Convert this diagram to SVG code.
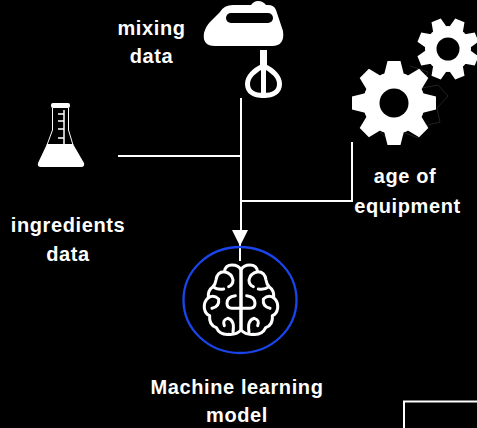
<svg xmlns="http://www.w3.org/2000/svg" width="477" height="428" viewBox="0 0 477 428">
<style>
.t{font-family:"Liberation Sans",Arial,sans-serif;font-weight:700;font-size:20px;letter-spacing:.6px;fill:#fff;text-anchor:middle}
.c{fill:none;stroke:#fff;stroke-width:2}
.w{fill:#fff}
.k{fill:#000}
.br{fill:none;stroke:#fff;stroke-width:9;stroke-linecap:round;stroke-linejoin:round}
</style>
<defs>
<path id="bt" d="M-10 -28L-6.500 -42L6.500 -42L10 -28Z"/>
<path id="st" d="M-7.500 -20L-5 -31L5 -31L7.500 -20Z"/>
<g id="hb">
<path d="M198 250V135Q205 120 225 120Q245 120 248 140Q270 140 273 165Q275 178 282 185Q298 195 296 218Q310 230 308 250Q305 268 292 272Q295 300 272 308Q262 330 235 328Q212 330 198 315V250"/>
<path d="M248 140Q225 145 222 165Q222 180 235 185"/>
<path d="M282 185Q270 195 250 192"/>
<path d="M296 218Q280 208 265 222Q262 245 285 250"/>
<path d="M198 250H225Q240 250 240 235Q240 215 215 212"/>
<path d="M222 322Q216 285 238 280Q255 285 248 302"/>
</g>
</defs>
<rect width="477" height="428" fill="#000"/>
<g id="connectors">
<path class="c" d="M118 156H241"/>
<path class="c" d="M241 98V232"/>
<path class="c" d="M352 142V201H241"/>
<path d="M232 230H248L240 246Z" fill="#fff"/>
<path class="c" d="M240 240V261"/>
<path d="M404 428V401.500H477" fill="none" stroke="#fff" stroke-width="2"/>
</g>
<g id="mixer">
<path class="w" d="M220 12Q224 5 233 5L251 5Q254 1 258 1Q263 1 266 5L268 5Q274 5 276 10L283 31Q285 46 272 46L215 46Q202 46 204 33Q206 26 210 22Z"/>
<rect class="k" x="226" y="13" width="47" height="10" rx="5"/>
<rect class="w" x="260" y="50" width="7" height="16"/>
<path d="M263.500 66C254 70 247.500 77 247.500 84C247.500 92 254 95.500 263.500 95.500C273 95.500 279.500 92 279.500 84C279.500 77 273 70 263.500 66Z" fill="none" stroke="#fff" stroke-width="5"/>
<rect class="w" x="261" y="64" width="5" height="34"/>
</g>
<g id="gears">
<path fill="none" stroke="#222" stroke-width="1" d="M380 132Q392 146 405 133L418 138L428 125L440 122L437 108L448 96L438 85L422 88L428 72L410 66"/>
<g id="gear-large" transform="translate(394 103)" class="w">
<circle r="31"/>
<use href="#bt"/><use href="#bt" transform="rotate(45)"/><use href="#bt" transform="rotate(90)"/><use href="#bt" transform="rotate(135)"/><use href="#bt" transform="rotate(180)"/><use href="#bt" transform="rotate(225)"/><use href="#bt" transform="rotate(270)"/><use href="#bt" transform="rotate(315)"/>
<circle class="k" r="14.500"/>
</g>
<g id="gear-small" transform="translate(448 49)" class="w">
<circle r="23"/>
<use href="#st" transform="rotate(22.500)"/><use href="#st" transform="rotate(67.500)"/><use href="#st" transform="rotate(112.500)"/><use href="#st" transform="rotate(157.500)"/><use href="#st" transform="rotate(202.500)"/><use href="#st" transform="rotate(247.500)"/><use href="#st" transform="rotate(292.500)"/><use href="#st" transform="rotate(337.500)"/>
<circle class="k" r="11.500"/>
</g>
</g>
<g id="flask">
<rect class="w" x="51" y="103" width="19" height="5" rx="2"/>
<path d="M52.500 108V130L47 145M68.500 108V130L73 145" fill="none" stroke="#fff" stroke-width="1"/>
<path class="w" d="M47 144H73L84 163Q85 167 81 167H41Q37 167 38 163Z"/>
<path d="M64 110V144M58 114H64M58 121H64M58 129H64M58 138H64" fill="none" stroke="#fff" stroke-width="1.500"/>
</g>
<g id="brain">
<ellipse cx="240" cy="300" rx="56.500" ry="53" fill="none" stroke="#1a45ea" stroke-width="2.300"/>
<g transform="translate(175 225) scale(.33333)" class="br">
<use href="#hb"/>
<use href="#hb" transform="translate(396 0) scale(-1 1)"/>
</g>
</g>
<g id="labels">
<text class="t" x="151.500" y="35">mixing</text>
<text class="t" x="151.500" y="63">data</text>
<text class="t" x="68" y="232">ingredients</text>
<text class="t" x="68" y="261">data</text>
<text class="t" x="405" y="183">age of</text>
<text class="t" x="407.500" y="213">equipment</text>
<text class="t" x="237" y="394">Machine learning</text>
<text class="t" x="237" y="422">model</text>
</g>
</svg>
